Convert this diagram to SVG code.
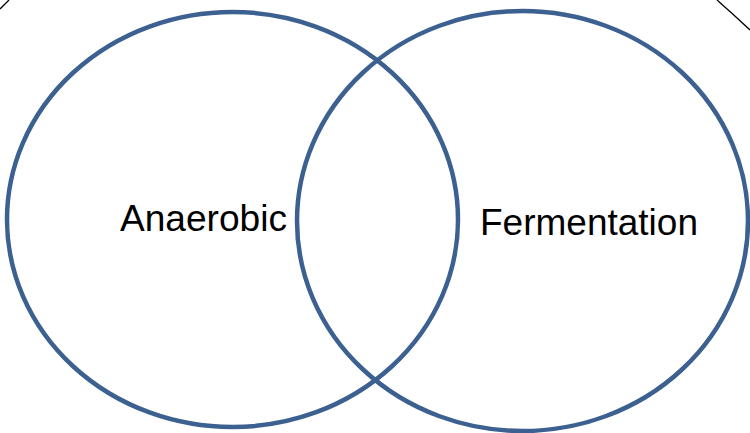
<svg xmlns="http://www.w3.org/2000/svg" width="750" height="433" viewBox="0 0 750 433">
<style>
.c{fill:none;stroke:#3C6090;stroke-width:4.5}
.t{font-family:"Liberation Sans",Arial,sans-serif;font-size:36px;fill:#000}
.o{fill:none;stroke:#000;stroke-width:1.3}
</style>
<rect width="750" height="433" fill="#fff"/>
<g id="outline">
<path class="o" d="M0,9 L9,0"/>
<path class="o" d="M717,0 Q733,14 750,30"/>
</g>
<g id="anaerobic">
<ellipse class="c" cx="232.5" cy="219.5" rx="225.5" ry="207.5"/>
<text class="t" x="120" y="231" textLength="167" lengthAdjust="spacingAndGlyphs">Anaerobic</text>
</g>
<g id="fermentation">
<ellipse class="c" cx="522.5" cy="221" rx="225.5" ry="210"/>
<text class="t" x="480" y="234.5" textLength="218" lengthAdjust="spacingAndGlyphs">Fermentation</text>
</g>
</svg>
